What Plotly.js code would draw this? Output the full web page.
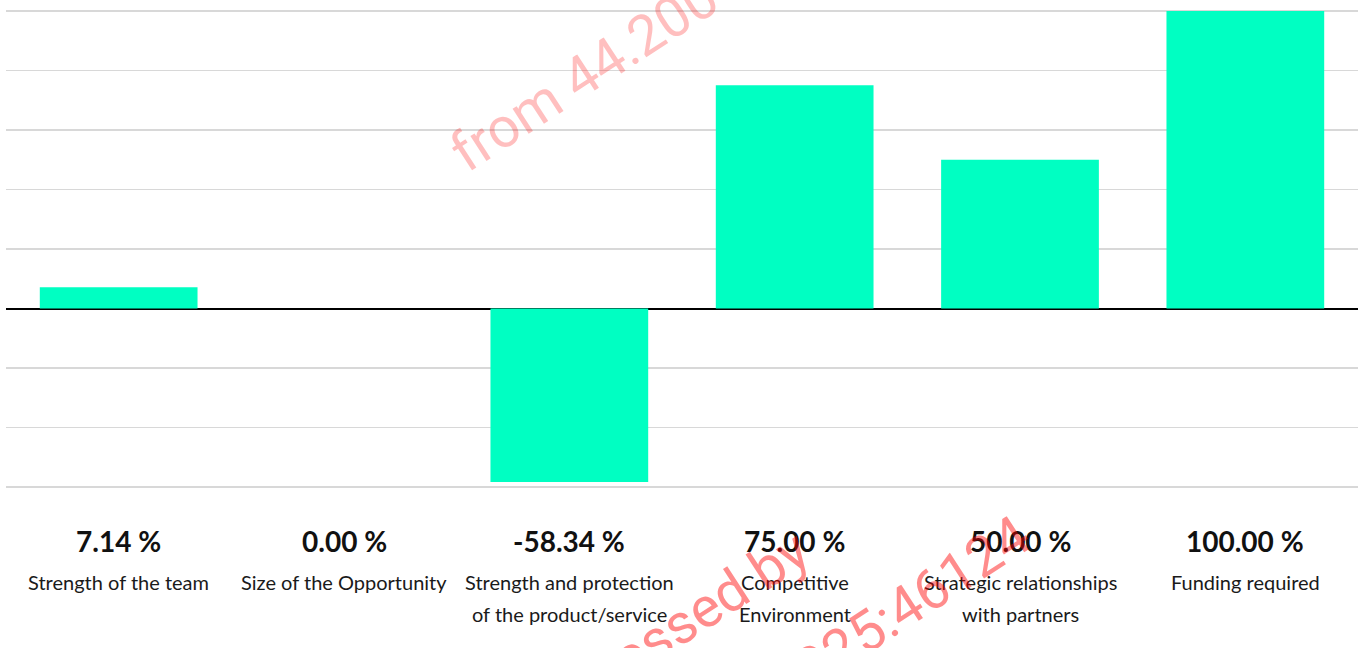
<!DOCTYPE html>
<html>
<head>
<meta charset="utf-8">
<script src="https://cdn.plot.ly/plotly-3.0.1.min.js"></script>
<style>
  html, body { margin: 0; padding: 0; background: #fff; }
  #chart { width: 1362px; height: 648px; }
</style>
</head>
<body>
<div id="chart"></div>
<script>
// ---- data ----
var categoryLines = [
  ["Strength of the team"],
  ["Size of the Opportunity"],
  ["Strength and protection", "of the product/service"],
  ["Competitive", "Environment"],
  ["Strategic relationships", "with partners"],
  ["Funding required"]
];
var values = [7.14, 0.00, -58.34, 75.00, 50.00, 100.00];
var valueLabels = ["7.14 %", "0.00 %", "-58.34 %", "75.00 %", "50.00 %", "100.00 %"];
var watermarkTexts = ["from 44.200", "Processed by", "2025:46124"];

// ---- layout helpers ----
var H = 648, T = 8, B = 158;
var plotH = H - T - B;
function py(pix) { return (H - B - pix) / plotH; }
function px(pix) { return (pix - 6) / (1362 - 6 - 4); }

var xIdx = values.map(function (v, i) { return i; });

var annotations = [];
values.forEach(function (v, i) {
  annotations.push({
    x: i, xref: 'x', y: py(541), yref: 'paper',
    text: '<b>' + valueLabels[i] + '</b>', showarrow: false,
    xanchor: 'center', yanchor: 'middle',
    font: { family: 'Lato, sans-serif', size: 28, color: '#111111' }
  });
  categoryLines[i].forEach(function (line, j) {
    annotations.push({
      x: i, xref: 'x', y: py(582 + 32 * j), yref: 'paper',
      text: line, showarrow: false,
      xanchor: 'center', yanchor: 'middle',
      font: { family: 'Lato, sans-serif', size: 20, color: '#1a1a1a' }
    });
  });
});

// watermark overlays
annotations.push({
  x: px(584), xref: 'paper', y: py(75), yref: 'paper',
  text: watermarkTexts[0], showarrow: false, textangle: -33,
  xanchor: 'center', yanchor: 'middle',
  font: { family: 'Roboto, sans-serif', size: 56, color: 'rgba(255,0,0,0.25)' }
});
annotations.push({
  x: px(662), xref: 'paper', y: py(636), yref: 'paper',
  text: watermarkTexts[1], showarrow: false, textangle: -33,
  xanchor: 'center', yanchor: 'middle',
  font: { family: 'Roboto, sans-serif', size: 56, color: 'rgba(255,0,0,0.45)' }
});
annotations.push({
  x: px(899), xref: 'paper', y: py(611), yref: 'paper',
  text: watermarkTexts[2], showarrow: false, textangle: -33,
  xanchor: 'center', yanchor: 'middle',
  font: { family: 'Roboto, sans-serif', size: 56, color: 'rgba(255,0,0,0.45)' }
});

var trace = {
  type: 'bar',
  x: xIdx,
  y: values,
  marker: { color: '#00FFC2', line: { width: 0 } },
  hoverinfo: 'none'
};

var layout = {
  width: 1362, height: 648,
  margin: { l: 6, r: 4, t: T, b: B, pad: 0 },
  paper_bgcolor: '#ffffff', plot_bgcolor: '#ffffff',
  showlegend: false,
  bargap: 0.3,
  xaxis: {
    range: [-0.5, 5.5], showticklabels: false, showgrid: false,
    zeroline: false, showline: false, ticks: '', fixedrange: true
  },
  yaxis: {
    range: [-61, 101], dtick: 20, tick0: 0, showticklabels: false,
    showgrid: true, gridcolor: '#d8d8d8', gridwidth: 1.5,
    zeroline: true, zerolinecolor: '#000000', zerolinewidth: 2,
    showline: false, ticks: '', fixedrange: true
  },
  annotations: annotations
};

Plotly.newPlot('chart', [trace], layout, { displayModeBar: false, staticPlot: true });
</script>
</body>
</html>
